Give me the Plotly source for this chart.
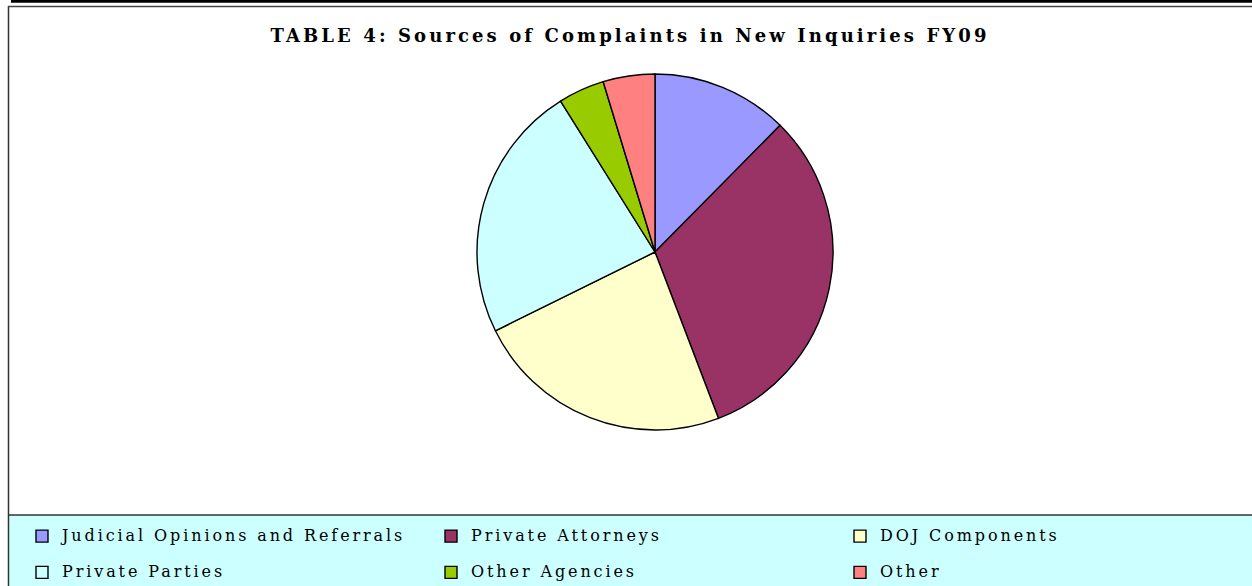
import plotly.graph_objects as go

W, H = 1252, 586

labels = ["Judicial Opinions and Referrals", "Private Attorneys", "DOJ Components",
          "Private Parties", "Other Agencies", "Other"]
values = [12.4, 31.8, 23.5, 23.4, 4.2, 4.7]
colors = ["#9999FF", "#993366", "#FFFFCC", "#CCFFFF", "#99CC00", "#FF8080"]
title_text = "TABLE 4: Sources of Complaints in New Inquiries FY09"


def px(x):
    return x / W


def py(y):
    return 1 - y / H


legend_labels = ['<span style="font-size:16px;letter-spacing:2.9px;baseline-shift:5px">%s</span>' % l
                 for l in labels]

fig = go.Figure()
fig.add_trace(go.Pie(
    labels=legend_labels,
    values=values,
    sort=False,
    direction="clockwise",
    rotation=0,
    marker=dict(colors=colors, line=dict(color="black", width=1.4)),
    textinfo="none",
    hoverinfo="percent",
    domain=dict(x=[px(58), px(1252)], y=[py(430), py(74)]),
))

shapes = [
    dict(type="rect", xref="paper", yref="paper", x0=px(8.5), x1=1, y0=0, y1=py(515),
         fillcolor="#CCFFFF", line=dict(width=0), layer="below"),
    dict(type="line", xref="paper", yref="paper", x0=px(8), x1=1, y0=py(515), y1=py(515),
         line=dict(color="#333333", width=1.5)),
    dict(type="line", xref="paper", yref="paper", x0=px(8.5), x1=px(8.5), y0=0, y1=py(6),
         line=dict(color="#333333", width=1.5)),
    dict(type="line", xref="paper", yref="paper", x0=px(8), x1=1, y0=py(6.5), y1=py(6.5),
         line=dict(color="#444444", width=1.3)),
    dict(type="line", xref="paper", yref="paper", x0=px(11), x1=1, y0=py(1.2), y1=py(1.2),
         line=dict(color="black", width=3)),
]

fig.update_layout(
    width=W, height=H,
    autosize=False,
    margin=dict(l=0, r=0, t=0, b=0, autoexpand=False),
    paper_bgcolor="white",
    plot_bgcolor="white",
    shapes=shapes,
    title=dict(
        text='<b><span style="letter-spacing:3.1px">%s</span></b>' % title_text,
        x=px(630), xanchor="center",
        y=py(36), yanchor="middle", yref="container",
        font=dict(family="DejaVu Serif", size=18, color="black"),
    ),
    showlegend=True,
    legend=dict(
        orientation="h",
        x=px(22), xanchor="left",
        y=py(513), yanchor="top",
        entrywidth=364, entrywidthmode="pixels",
        bgcolor="rgba(0,0,0,0)",
        font=dict(family="DejaVu Serif", size=25.6, color="black"),
        traceorder="normal",
    ),
)

fig.write_html(
    "out.html",
    config={"responsive": False, "displayModeBar": False},
    post_script="document.body.style.margin='0px';document.body.style.overflow='hidden';",
)
